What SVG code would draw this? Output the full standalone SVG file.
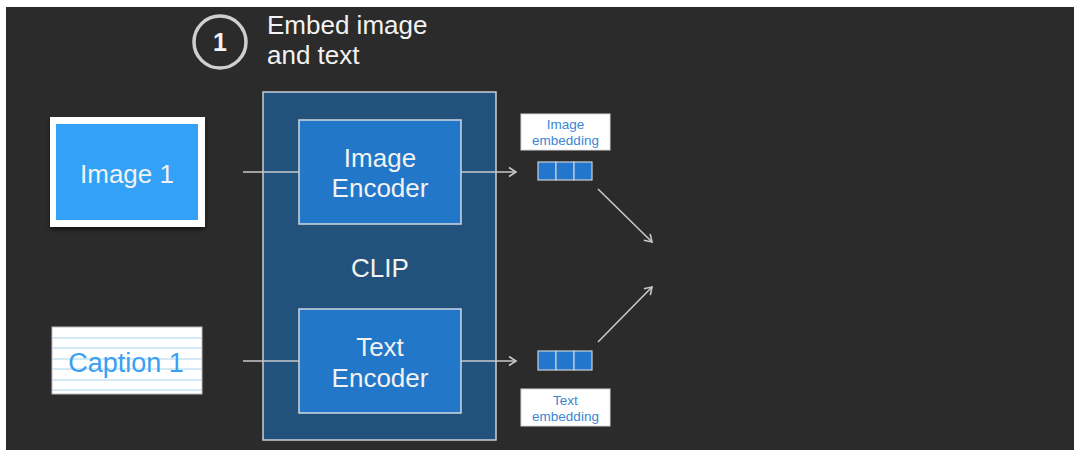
<svg xmlns="http://www.w3.org/2000/svg" width="1080" height="457" viewBox="0 0 1080 457">
<defs>
<style>
text{font-family:"Liberation Sans",Arial,sans-serif}
.w{fill:#f2f2f2}
.conn{stroke:#c8c8c8;stroke-width:1.6;fill:none}
.enc{fill:#2277c8;stroke:#d0d8e0;stroke-width:1.5}
.lbl{fill:#ffffff;stroke:#d8d8d8;stroke-width:1}
.lt{fill:#3b86d2;font-size:13.5px;text-anchor:middle}
.cell{fill:#2277cc;stroke:#c8d0d8;stroke-width:1.2}
.rule{stroke:#a9d4ee;stroke-width:1.2}
</style>
<marker id="ah" markerWidth="12" markerHeight="12" refX="9" refY="6" orient="auto" markerUnits="userSpaceOnUse">
<path d="M2,1.5 L9,6 L2,10.5" fill="none" stroke="#c8c8c8" stroke-width="1.6"/>
</marker>
<filter id="sh" x="-10%" y="-10%" width="120%" height="130%">
<feDropShadow dx="0" dy="3" stdDeviation="2" flood-color="#000" flood-opacity="0.5"/>
</filter>
</defs>
<rect x="0" y="0" width="1080" height="457" fill="#ffffff"/>
<rect x="6" y="7" width="1068" height="443" fill="#2b2b2b"/>

<g id="step">
<circle cx="220" cy="42" r="26" fill="none" stroke="#cfcfcf" stroke-width="3.5"/>
<text x="220" y="51" class="w" font-size="25" font-weight="bold" text-anchor="middle">1</text>
<text x="267" y="34" class="w" font-size="26">Embed image</text>
<text x="267" y="64" class="w" font-size="26">and text</text>
</g>

<g id="clip">
<rect x="263" y="92" width="233" height="348" fill="#22527b" stroke="#c8d0d8" stroke-width="1.5"/>
<text x="380" y="277" class="w" font-size="26" text-anchor="middle">CLIP</text>
</g>

<g id="image-encoder">
<rect x="299" y="120" width="162" height="104" class="enc"/>
<text x="380" y="167" class="w" font-size="26" text-anchor="middle">Image</text>
<text x="380" y="197" class="w" font-size="26" text-anchor="middle">Encoder</text>
</g>

<g id="text-encoder">
<rect x="299" y="309" width="162" height="104" class="enc"/>
<text x="380" y="356" class="w" font-size="26" text-anchor="middle">Text</text>
<text x="380" y="387" class="w" font-size="26" text-anchor="middle">Encoder</text>
</g>

<g id="image1">
<rect x="50" y="117" width="155" height="110" fill="#ffffff" filter="url(#sh)"/>
<rect x="56" y="124" width="142" height="96" fill="#33a1f6"/>
<text x="127" y="183" class="w" font-size="26" text-anchor="middle">Image 1</text>
</g>

<g id="caption1">
<rect x="52" y="327" width="150" height="67" fill="#ffffff" stroke="#bdbdbd" stroke-width="1"/>
<line x1="52" y1="338" x2="202" y2="338" class="rule"/>
<line x1="52" y1="348" x2="202" y2="348" class="rule"/>
<line x1="52" y1="359" x2="202" y2="359" class="rule"/>
<line x1="52" y1="369" x2="202" y2="369" class="rule"/>
<line x1="52" y1="380" x2="202" y2="380" class="rule"/>
<line x1="52" y1="390" x2="202" y2="390" class="rule"/>
<text x="126" y="372" fill="#3a9ff0" font-size="27" text-anchor="middle">Caption 1</text>
</g>

<g id="image-embedding">
<rect x="521" y="114" width="89" height="36" class="lbl"/>
<text x="565.5" y="129" class="lt">Image</text>
<text x="565.5" y="145" class="lt">embedding</text>
<rect x="538" y="162" width="18" height="18" class="cell"/>
<rect x="556" y="162" width="18" height="18" class="cell"/>
<rect x="574" y="162" width="18" height="18" class="cell"/>
</g>

<g id="text-embedding">
<rect x="521" y="389" width="89" height="37" class="lbl"/>
<text x="565.5" y="405" class="lt">Text</text>
<text x="565.5" y="421" class="lt">embedding</text>
<rect x="538" y="351" width="18" height="19" class="cell"/>
<rect x="556" y="351" width="18" height="19" class="cell"/>
<rect x="574" y="351" width="18" height="19" class="cell"/>
</g>

<g id="connectors">
<line x1="243" y1="172" x2="299" y2="172" class="conn"/>
<line x1="243" y1="361" x2="299" y2="361" class="conn"/>
<line x1="461" y1="172" x2="516" y2="172" class="conn" marker-end="url(#ah)"/>
<line x1="461" y1="361" x2="516" y2="361" class="conn" marker-end="url(#ah)"/>
<line x1="598" y1="189" x2="652" y2="242" class="conn" marker-end="url(#ah)"/>
<line x1="598" y1="342" x2="652" y2="287" class="conn" marker-end="url(#ah)"/>
</g>
</svg>
